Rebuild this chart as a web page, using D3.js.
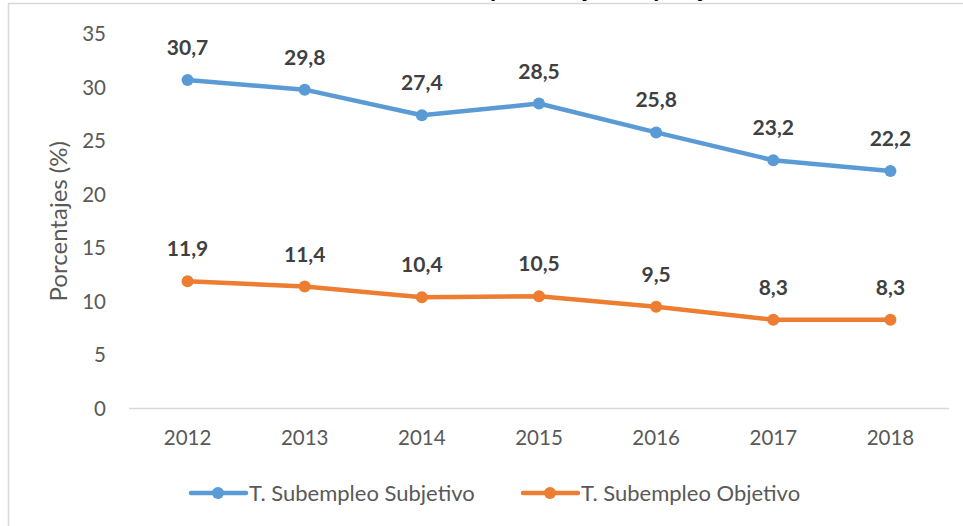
<!DOCTYPE html>
<html>
<head>
<meta charset="utf-8">
<script src="https://cdn.jsdelivr.net/npm/d3@7"></script>
<style>
  html, body { margin: 0; padding: 0; background: #fff; overflow: hidden; }
  svg { display: block; font-family: Lato, "Open Sans", sans-serif; }
</style>
</head>
<body>
<svg id="chart" width="963" height="526"></svg>
<script>
const years = ["2012", "2013", "2014", "2015", "2016", "2017", "2018"];
const subjetivo = [30.7, 29.8, 27.4, 28.5, 25.8, 23.2, 22.2];
const objetivo = [11.9, 11.4, 10.4, 10.5, 9.5, 8.3, 8.3];
const yTicks = [0, 5, 10, 15, 20, 25, 30, 35];
const seriesNames = ["T. Subempleo Subjetivo", "T. Subempleo Objetivo"];
const seriesColors = ["#5b9bd5", "#ed7d31"];
const chartTitle = "Tasa de subempleo subjetivo y objetivo";

const svg = d3.select("#chart");
const width = 963, height = 526;
const margin = {top: 34, right: 14, bottom: 117.5, left: 129};

// chart frame (cut by the window on the right and bottom)
svg.append("rect")
    .attr("x", 8.5).attr("y", 3.5)
    .attr("width", 1000).attr("height", 600)
    .attr("fill", "none")
    .attr("stroke", "#d9d9d9")
    .attr("stroke-width", 1.5);

// title, almost entirely above the window (as in the source image)
const title = svg.append("text")
    .attr("y", -3.5)
    .attr("font-size", 25)
    .attr("font-weight", "bold")
    .attr("fill", "#000")
    .text(chartTitle);
const pIdx = chartTitle.indexOf("p");
const pPos = title.node().getStartPositionOfChar(pIdx).x;
title.attr("x", 490 - pPos);

const x = d3.scaleBand()
    .domain(years)
    .range([margin.left, width - margin.right]);

const y = d3.scaleLinear()
    .domain([0, 35])
    .range([height - margin.bottom, margin.top]);

// baseline
svg.append("line")
    .attr("x1", margin.left).attr("x2", width - margin.right)
    .attr("y1", y(0)).attr("y2", y(0))
    .attr("stroke", "#d9d9d9")
    .attr("stroke-width", 1.5);

// y axis labels
const yAxis = svg.append("g")
    .attr("transform", `translate(${margin.left},0)`)
    .call(d3.axisLeft(y).tickValues(yTicks).tickSize(0).tickPadding(23));
yAxis.select(".domain").remove();
yAxis.selectAll("text")
    .attr("font-family", "Lato, sans-serif")
    .attr("font-size", 20.5)
    .attr("fill", "#595959");

// x axis labels
const xAxis = svg.append("g")
    .attr("transform", `translate(0,${y(0)})`)
    .call(d3.axisBottom(x).tickSize(0).tickPadding(22));
xAxis.select(".domain").remove();
xAxis.selectAll("text")
    .attr("font-family", "Lato, sans-serif")
    .attr("font-size", 20.5)
    .attr("fill", "#595959");

// y axis title
svg.append("text")
    .attr("transform", `translate(67,${(y(0) + y(35)) / 2}) rotate(-90)`)
    .attr("text-anchor", "middle")
    .attr("font-size", 24)
    .attr("fill", "#595959")
    .text("Porcentajes (%)");

const line = d3.line()
    .x((d, i) => x(years[i]) + x.bandwidth() / 2)
    .y(d => y(d));

[subjetivo, objetivo].forEach((values, s) => {
    svg.append("path")
        .datum(values)
        .attr("d", line)
        .attr("fill", "none")
        .attr("stroke", seriesColors[s])
        .attr("stroke-width", 4.5)
        .attr("stroke-linejoin", "round");

    svg.selectAll(".pt" + s)
        .data(values)
        .join("circle")
        .attr("cx", (d, i) => x(years[i]) + x.bandwidth() / 2)
        .attr("cy", d => y(d))
        .attr("r", 6)
        .attr("fill", seriesColors[s]);

    svg.selectAll(".lbl" + s)
        .data(values)
        .join("text")
        .attr("x", (d, i) => x(years[i]) + x.bandwidth() / 2)
        .attr("y", d => y(d) - 25)
        .attr("text-anchor", "middle")
        .attr("font-size", 21)
        .attr("font-weight", "bold")
        .attr("fill", "#404040")
        .text(d => d3.format(".1f")(d).replace(".", ","));
});

// legend
const legendX = [191, 523];
const legendY = 493;
seriesNames.forEach((name, s) => {
    const g = svg.append("g").attr("transform", `translate(${legendX[s]},${legendY})`);
    g.append("line")
        .attr("x1", 0).attr("x2", 55)
        .attr("stroke", seriesColors[s])
        .attr("stroke-width", 4.5)
        .attr("stroke-linecap", "round");
    g.append("circle")
        .attr("cx", 27).attr("r", 6)
        .attr("fill", seriesColors[s]);
    g.append("text")
        .attr("x", 58)
        .attr("dy", "0.35em")
        .attr("font-size", 22)
        .attr("fill", "#595959")
        .text(name);
});
</script>
</body>
</html>
